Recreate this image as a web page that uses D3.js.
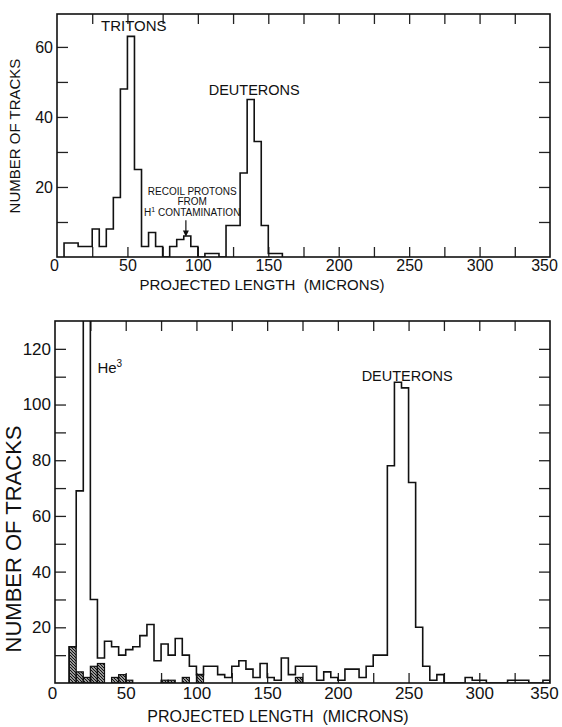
<!DOCTYPE html>
<html>
<head>
<meta charset="utf-8">
<script src="https://cdn.jsdelivr.net/npm/d3@7"></script>
<style>
  body { margin: 0; background: #fff; }
  svg text { font-family: "Liberation Sans", Arial, sans-serif; fill: #111; }
</style>
</head>
<body>
<div id="chart"></div>
<script>

var binWidth = 5;

// upper histogram (tritons / deuterons)
var topBinStarts = [5, 10, 15, 20, 25, 30, 35, 40, 45, 50, 55, 60, 65, 70, 75, 80, 85, 90, 95, 100,
                    105, 110, 115, 120, 125, 130, 135, 140, 145, 150, 155];
var topCounts = [4, 4, 3, 3, 8, 3, 8, 17, 48, 63, 25, 3, 7, 3, 0, 3, 5, 6, 3, 0,
                 1, 1, 0, 9, 9, 24, 45, 33, 9, 1, 1];

// lower histogram (He3 / deuterons); 20-25 bin runs off the top
var bottomBinStarts = [10, 15, 20, 25, 30, 35, 40, 45, 50, 55, 60, 65, 70, 75, 80, 85, 90, 95, 100, 105,
                       110, 115, 120, 125, 130, 135, 140, 145, 150, 155, 160, 165, 170, 175, 180, 185, 190, 195, 200, 205,
                       210, 215, 220, 225, 230, 235, 240, 245, 250, 255, 260, 265, 270, 275, 280, 285, 290, 295, 300, 305,
                       310, 315, 320, 325, 330, 335, 340, 345];
var bottomCounts = [13, 69, 175, 30, 9, 15, 13, 10, 12, 13, 17, 21, 8, 14, 10, 16, 10, 6, 3, 6,
                    6, 3, 2, 6, 8, 5, 2, 7, 2, 1, 9, 3, 6, 6, 6, 1, 4, 2, 1, 5,
                    5, 2, 6, 10, 10, 78, 108, 106, 72, 20, 6, 1, 3, 0, 0, 0, 2, 1, 1, 0,
                    0, 0, 1, 1, 1, 0, 0, 1];

// shaded (hatched) part of the lower histogram
var hatchBinStarts = [10, 15, 20, 25, 30, 40, 45, 50, 75, 80, 90, 100, 170];
var hatchCounts = [13, 4, 2, 6, 7, 2, 3, 1, 1, 1, 2, 3, 2];

var xTickValues = [0, 50, 100, 150, 200, 250, 300, 350];
var topYLabels = [20, 40, 60];
var bottomYLabels = [20, 40, 60, 80, 100, 120];

var xTitle = "PROJECTED LENGTH  (MICRONS)";
var yTitle = "NUMBER OF TRACKS";

var svg = d3.select("#chart").append("svg")
    .attr("width", 562)
    .attr("height", 727);

// hatch pattern
svg.append("defs").append("pattern")
    .attr("id", "hatch")
    .attr("patternUnits", "userSpaceOnUse")
    .attr("width", 3)
    .attr("height", 3)
    .append("path")
    .attr("d", "M-1,-1 L4,4 M-1,2 L1,4 M2,-1 L4,1")
    .attr("stroke", "#111")
    .attr("stroke-width", 1.3);

function steps(starts, counts) {
    var pts = [[starts[0], 0]];
    starts.forEach(function(s, i) {
        pts.push([s, counts[i]]);
        pts.push([s + binWidth, counts[i]]);
    });
    pts.push([starts[starts.length - 1] + binWidth, 0]);
    return pts;
}

function panel(opts) {
    var x = d3.scaleLinear().domain([0, 350]).range(opts.xr);
    var y = d3.scaleLinear().domain([0, opts.ymax]).range(opts.yr);
    var g = svg.append("g");
    var yTicks = d3.range(0, opts.ymax, 10).filter(function(d) { return d > 0; });
    var xMinor = d3.range(25, 350, 25);

    var clipId = "clip" + opts.id;
    g.append("clipPath").attr("id", clipId)
        .append("rect")
        .attr("x", opts.xr[0]).attr("y", opts.yr[1])
        .attr("width", opts.xr[1] - opts.xr[0])
        .attr("height", opts.yr[0] - opts.yr[1]);

    var fmtX = function(d) { return xTickValues.indexOf(d) >= 0 ? d : ""; };
    var fmtY = function(d) { return opts.yLabels.indexOf(d) >= 0 ? d : ""; };

    var axB = g.append("g").attr("transform", "translate(0," + opts.yr[0] + ")")
        .call(d3.axisBottom(x).tickValues(xMinor.concat([0, 350])).tickSize(-10).tickPadding(opts.xPad).tickFormat(fmtX));
    axB.selectAll(".tick").filter(function(d) { return d == 0 || d == 350; }).select("line").remove();
    axB.selectAll(".tick").filter(function(d) { return d == 0; }).select("text").attr("dx", -3);
    axB.selectAll(".tick").filter(function(d) { return d == 350; }).select("text").attr("dx", -6);
    g.append("g").attr("transform", "translate(0," + opts.yr[1] + ")")
        .call(d3.axisTop(x).tickValues(xMinor).tickSize(-10).tickFormat(""));
    g.append("g").attr("transform", "translate(" + opts.xr[0] + ",0)")
        .call(d3.axisLeft(y).tickValues(yTicks).tickSize(-11).tickPadding(4).tickFormat(fmtY));
    g.append("g").attr("transform", "translate(" + opts.xr[1] + ",0)")
        .call(d3.axisRight(y).tickValues(yTicks).tickSize(-11).tickFormat(""));

    g.selectAll(".domain").remove();
    g.selectAll(".tick line").attr("stroke", "#222").attr("stroke-width", 1.3);
    g.selectAll(".tick text").attr("font-size", opts.tickFont).attr("fill", "#111")
        .style("font-family", "'Liberation Sans', Arial, sans-serif");

    // hatched bars
    if (opts.hatch) {
        g.append("g").attr("clip-path", "url(#" + clipId + ")")
            .selectAll("rect")
            .data(opts.hatch.starts)
            .enter()
            .append("rect")
            .attr("x", function(d) { return x(d); })
            .attr("y", function(d, i) { return y(opts.hatch.counts[i]); })
            .attr("width", function(d) { return x(d + binWidth) - x(d); })
            .attr("height", function(d, i) { return y(0) - y(opts.hatch.counts[i]); })
            .attr("fill", "url(#hatch)")
            .attr("stroke", "#111")
            .attr("stroke-width", 1.2);
    }

    // histogram outline
    var line = d3.line().x(function(d) { return x(d[0]); }).y(function(d) { return y(d[1]); });
    g.append("path")
        .attr("clip-path", "url(#" + clipId + ")")
        .attr("d", line(steps(opts.starts, opts.counts)))
        .attr("fill", "none")
        .attr("stroke", "#111")
        .attr("stroke-width", 1.6);

    // frame
    g.append("rect")
        .attr("x", opts.xr[0]).attr("y", opts.yr[1])
        .attr("width", opts.xr[1] - opts.xr[0])
        .attr("height", opts.yr[0] - opts.yr[1])
        .attr("fill", "none")
        .attr("stroke", "#111")
        .attr("stroke-width", 1.6);

    // axis titles
    g.append("text")
        .attr("x", opts.xTitlePos[0]).attr("y", opts.xTitlePos[1])
        .attr("text-anchor", "middle")
        .attr("font-size", opts.titleFont)
        .style("white-space", "pre")
        .text(xTitle);
    g.append("text")
        .attr("transform", "translate(" + opts.yTitlePos[0] + "," + opts.yTitlePos[1] + ") rotate(-90)")
        .attr("text-anchor", "middle")
        .attr("font-size", opts.yTitleFont)
        .text(yTitle);

    return {g: g, x: x, y: y};
}

var topPanel = panel({
    id: 1, xr: [57, 550], yr: [257, 14], ymax: 69.4,
    starts: topBinStarts, counts: topCounts, yLabels: topYLabels,
    tickFont: 16, xPad: 3, titleFont: 15, yTitleFont: 15,
    xTitlePos: [262, 290], yTitlePos: [20, 136]
});

var bottomPanel = panel({
    id: 2, xr: [55, 550], yr: [683, 321], ymax: 130,
    starts: bottomBinStarts, counts: bottomCounts, yLabels: bottomYLabels,
    hatch: {starts: hatchBinStarts, counts: hatchCounts},
    tickFont: 17, xPad: 4, titleFont: 16, yTitleFont: 22,
    xTitlePos: [278, 722], yTitlePos: [21, 539]
});

// annotations, upper panel
var tp = topPanel;
tp.g.append("text").attr("x", tp.x(54.5)).attr("y", tp.y(64.6))
    .attr("text-anchor", "middle").attr("font-size", 15).text("TRITONS");
tp.g.append("text").attr("x", tp.x(140)).attr("y", tp.y(46.2))
    .attr("text-anchor", "middle").attr("font-size", 14.5).text("DEUTERONS");

var recoil = tp.g.append("text").attr("text-anchor", "middle").attr("font-size", 10);
recoil.append("tspan").attr("x", tp.x(96)).attr("y", tp.y(17.8)).text("RECOIL PROTONS");
recoil.append("tspan").attr("x", tp.x(96)).attr("y", tp.y(14.9)).text("FROM");
var l3 = recoil.append("tspan").attr("x", tp.x(96)).attr("y", tp.y(11.8));
l3.append("tspan").text("H");
l3.append("tspan").attr("font-size", 7).attr("dy", -4).text("1");
l3.append("tspan").attr("dy", 4).text(" CONTAMINATION");

tp.g.append("line")
    .attr("x1", tp.x(91.5)).attr("x2", tp.x(91.5))
    .attr("y1", tp.y(10.5)).attr("y2", tp.y(6.8))
    .attr("stroke", "#111").attr("stroke-width", 1.2);
tp.g.append("path")
    .attr("d", d3.line()([[tp.x(91.5) - 3, tp.y(7.6)], [tp.x(91.5) + 3, tp.y(7.6)], [tp.x(91.5), tp.y(5.8)]]))
    .attr("fill", "#111");

// annotations, lower panel
var bp = bottomPanel;
var he = bp.g.append("text").attr("x", bp.x(30)).attr("y", bp.y(111.5))
    .attr("font-size", 15);
he.append("tspan").text("He");
he.append("tspan").attr("font-size", 10).attr("dy", -6).text("3");
bp.g.append("text").attr("x", bp.x(249)).attr("y", bp.y(108.5))
    .attr("text-anchor", "middle").attr("font-size", 14.5).text("DEUTERONS");

</script>
</body>
</html>
